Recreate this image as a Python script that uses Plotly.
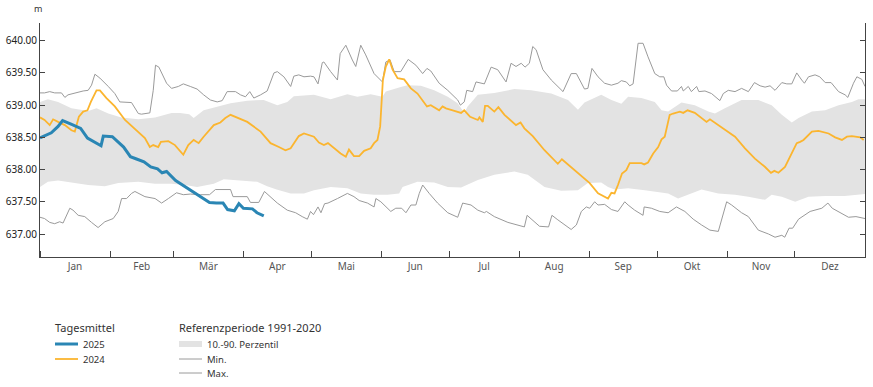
import plotly.graph_objects as go

# ---------------- data (day of year, 0 = 1 Jan; values in m) ----------------
month_starts = [0, 31, 59, 90, 120, 151, 181, 212, 243, 273, 304, 334, 365]
month_labels = ["Jan", "Feb", "Mär", "Apr", "Mai", "Jun", "Jul", "Aug", "Sep", "Okt", "Nov", "Dez"]
y_ticks = [637.0, 637.5, 638.0, 638.5, 639.0, 639.5, 640.0]

days_2025 = [0, 5, 8, 10, 14, 18, 21, 26, 27, 28, 32, 37, 40, 43, 46, 49, 52, 54, 56, 60,
             63, 66, 71, 75, 78, 81, 83, 86, 88, 90, 94, 96, 99]
vals_2025 = [638.49, 638.57, 638.67, 638.76, 638.70, 638.64, 638.49, 638.38, 638.37, 638.52,
             638.51, 638.35, 638.20, 638.16, 638.12, 638.04, 638.01, 637.95, 637.97, 637.83,
             637.76, 637.70, 637.58, 637.49, 637.48, 637.48, 637.38, 637.36, 637.47, 637.40,
             637.39, 637.33, 637.28]

days_2024 = [0, 2, 4.3, 5.8, 8, 11, 13.9, 15.4, 17.2, 19.1, 21, 22.5, 25, 26.5, 29.4, 33.1, 37.6,
             42.7, 46.4, 48.6, 50.1, 52.3, 53.5, 56.8, 59.7, 63.4, 65.6, 68, 70.2, 72.4, 76.9,
             79.8, 82, 84.3, 87.2, 91.7, 97.6, 102, 105.7, 108.6, 110.9, 114.5, 116.8, 121.2,
             123.4, 125.6, 127.4, 130, 133, 135.3, 136.7, 138.9, 141.2, 143.4, 146.3, 147.8,
             149.3, 150.5, 151.1, 151.7, 153, 154.5, 156, 158.2, 161.1, 164.1, 167, 169.3, 171.2,
             172.9, 176.6, 178.1, 179.6, 182.6, 186.3, 187.7, 190.3, 193.7, 194.4, 195.9, 196.9,
             198.1, 201, 202.8, 205.5, 210.6, 212.6, 214.3, 218, 223.2, 229.1, 230.9, 236.5,
             243.2, 246.9, 251.3, 252.8, 254.2, 255.7, 257.5, 259.4, 260.9, 266.1, 267.3, 269,
             271.3, 273.5, 275, 276.4, 278.6, 280.1, 283.1, 284.6, 286.5, 289.7, 294.9, 296.4,
             300.1, 307.5, 311.9, 316.3, 320.8, 323.4, 324.9, 326.7, 329.6, 332.6, 334.8, 336.3,
             337.8, 341.5, 344.4, 348.9, 351.8, 354.8, 357, 359.2, 362.9, 364.4]
vals_2024 = [638.81, 638.77, 638.69, 638.78, 638.74, 638.69, 638.61, 638.59, 638.82, 638.90,
             638.92, 639.05, 639.23, 639.23, 639.11, 638.98, 638.77, 638.61, 638.49, 638.35,
             638.38, 638.35, 638.43, 638.44, 638.38, 638.23, 638.38, 638.46, 638.41, 638.51,
             638.69, 638.73, 638.80, 638.85, 638.81, 638.74, 638.59, 638.41, 638.35, 638.30,
             638.33, 638.52, 638.56, 638.51, 638.42, 638.38, 638.41, 638.33, 638.25, 638.20,
             638.31, 638.21, 638.21, 638.29, 638.33, 638.41, 638.46, 638.67, 638.98, 639.39,
             639.60, 639.71, 639.55, 639.42, 639.40, 639.26, 639.18, 639.08, 638.98, 639.00,
             638.92, 638.98, 638.95, 638.92, 638.88, 638.92, 638.82, 638.77, 638.81, 638.74,
             638.99, 638.99, 638.90, 638.97, 638.85, 638.69, 638.73, 638.64, 638.52, 638.30,
             638.09, 638.16, 637.99, 637.79, 637.63, 637.55, 637.64, 637.63, 637.76, 637.94,
             637.99, 638.10, 638.10, 638.08, 638.11, 638.25, 638.35, 638.47, 638.51, 638.85,
             638.87, 638.90, 638.88, 638.92, 638.88, 638.74, 638.78, 638.69, 638.51, 638.33,
             638.17, 638.04, 637.95, 637.98, 637.95, 638.04, 638.25, 638.41, 638.43, 638.46,
             638.59, 638.60, 638.56, 638.50, 638.46, 638.51, 638.52, 638.50, 638.46]

days_max = [0, 2, 4.3, 6.5, 9.5, 11, 12.4, 15.4, 19.1, 21.3, 22.8, 24.3, 26.5, 30.2, 33.1, 35.3,
            37.6, 40.5, 43.5, 44.9, 48.6, 50.1, 51.1, 52.6, 56, 58.2, 61.2, 63.4, 66.5, 69.5, 72.4,
            75.4, 78.4, 80.6, 82.8, 86.5, 88.7, 90.9, 92.8, 94.6, 97.6, 100.5, 103.5, 105, 107.9,
            109.7, 110.9, 112.3, 114.5, 116.8, 119.7, 121.2, 123, 124.9, 125.6, 128.6, 131.6,
            132.8, 135.3, 138.2, 139.7, 141.9, 144.1, 147.8, 151.5, 153, 154.9, 156.7, 159.6,
            162.9, 166.3, 169.3, 171.2, 172.9, 176.6, 180.4, 184.8, 186, 187.7, 188.8, 191.4,
            192.9, 196.6, 199.6, 202.5, 206.2, 208.4, 210.6, 212.9, 214.6, 216.5, 218, 219.5,
            222.5, 226.2, 231.4, 232.8, 235, 237.3, 240.9, 242.4, 244.2, 246.9, 249.8, 252.8,
            255.7, 257.2, 259.4, 260.9, 262.4, 264.6, 266.8, 269, 272, 274.2, 276, 277.2, 279.4,
            282, 283.8, 284.6, 286.8, 288.2, 290.5, 291.5, 294.2, 297.1, 300.8, 302.3, 304.5,
            307.5, 310.4, 313.4, 316.1, 318.6, 320.8, 323, 325.2, 328.2, 330.4, 332.6, 334.8,
            337, 338.2, 340, 342.9, 345, 347.4, 350, 353.3, 356.2, 357.4, 359.9, 361.4, 363.6, 365]
vals_max = [639.19, 639.19, 639.21, 639.19, 639.19, 639.12, 639.16, 639.19, 639.22, 639.23,
            639.31, 639.48, 639.42, 639.29, 639.18, 639.05, 639.05, 639.04, 638.87, 638.86,
            638.88, 639.23, 639.62, 639.59, 639.34, 639.26, 639.29, 639.33, 639.29, 639.25,
            639.16, 639.08, 639.05, 639.07, 639.21, 639.21, 639.16, 639.13, 639.21, 639.11,
            639.16, 639.22, 639.50, 639.52, 639.44, 639.34, 639.29, 639.45, 639.47, 639.44,
            639.45, 639.44, 639.33, 639.66, 639.67, 639.52, 639.39, 639.80, 639.93, 639.70,
            639.60, 639.93, 639.78, 639.49, 639.36, 639.67, 639.70, 639.52, 639.52, 639.71,
            639.62, 639.49, 639.57, 639.53, 639.34, 639.23, 639.08, 639.00, 639.05, 639.23,
            639.21, 639.36, 639.33, 639.59, 639.55, 639.36, 639.65, 639.60, 639.65, 639.59,
            639.65, 639.91, 639.86, 639.55, 639.39, 639.21, 639.31, 639.49, 639.49, 639.25,
            639.26, 639.57, 639.44, 639.34, 639.31, 639.34, 639.38, 639.36, 639.30, 639.33,
            639.96, 639.96, 639.75, 639.49, 639.44, 639.44, 639.31, 639.22, 639.22, 639.29,
            639.22, 639.29, 639.21, 639.29, 639.21, 639.22, 639.18, 639.07, 639.18, 639.23,
            639.21, 639.26, 639.21, 639.35, 639.30, 639.28, 639.30, 639.23, 639.35, 639.33,
            639.33, 639.50, 639.39, 639.34, 639.44, 639.47, 639.44, 639.35, 639.35, 639.21,
            639.16, 639.12, 639.34, 639.44, 639.40, 639.29]

days_min = [0, 2, 4.3, 6.5, 8.7, 10.2, 13.2, 14.6, 16.9, 19.8, 22.8, 25.7, 28.7, 32.4, 34.6, 36.1,
            38.3, 40.5, 42, 46.4, 50.9, 53.8, 56.8, 60.4, 63.4, 66.5, 71, 75, 77.6, 84.3, 85.4,
            91.7, 93.1, 96.8, 99.3, 102, 105, 109.4, 113.1, 116, 118.3, 119.7, 121, 123, 124.3,
            125.9, 127.4, 131.6, 136, 138.9, 141.2, 144.9, 147.8, 148.6, 150.8, 155.2, 157.4, 160,
            161.9, 164.1, 166.3, 167.8, 169.3, 172.2, 175.9, 180.4, 183.3, 184.8, 187, 188.5,
            190.7, 193.7, 196.6, 197.5, 201, 207, 211.4, 214.3, 215.5, 218, 221, 225, 226.5,
            229.1, 232.1, 235, 237.3, 239.5, 241.7, 243.2, 245.4, 246.9, 249.8, 252.8, 255.7,
            258.7, 260.2, 263.1, 266.8, 267.3, 270.5, 274.2, 277.9, 281.6, 285.3, 289, 292.7,
            296.4, 300.1, 301.6, 303.8, 306, 310.4, 313.4, 317.8, 322.3, 325.2, 328.2, 329.5,
            331.4, 333, 335.6, 340.7, 345.9, 348.6, 350.5, 353.3, 357.7, 361, 365]
vals_min = [637.26, 637.24, 637.18, 637.16, 637.19, 637.17, 637.40, 637.37, 637.29, 637.27,
            637.18, 637.10, 637.19, 637.24, 637.35, 637.55, 637.55, 637.63, 637.66, 637.58,
            637.55, 637.48, 637.55, 637.64, 637.61, 637.62, 637.61, 637.61, 637.69, 637.69,
            637.58, 637.58, 637.49, 637.49, 637.66, 637.58, 637.48, 637.37, 637.33, 637.27,
            637.23, 637.35, 637.30, 637.42, 637.33, 637.47, 637.48, 637.55, 637.63, 637.58,
            637.52, 637.48, 637.42, 637.55, 637.50, 637.35, 637.40, 637.40, 637.33, 637.45,
            637.45, 637.63, 637.76, 637.63, 637.48, 637.33, 637.29, 637.26, 637.48, 637.47,
            637.45, 637.37, 637.33, 637.35, 637.27, 637.18, 637.14, 637.11, 637.29, 637.21,
            637.12, 637.11, 637.29, 637.22, 637.14, 637.07, 637.14, 637.35, 637.42, 637.40,
            637.50, 637.45, 637.46, 637.38, 637.35, 637.50, 637.45, 637.37, 637.29, 637.42,
            637.40, 637.35, 637.33, 637.42, 637.35, 637.23, 637.14, 637.06, 637.04, 637.22,
            637.50, 637.45, 637.33, 637.27, 637.06, 637.00, 636.95, 636.98, 636.95, 637.09,
            637.09, 637.23, 637.35, 637.40, 637.48, 637.40, 637.35, 637.26, 637.27, 637.24]

days_p90 = [0, 3.5, 8, 13.9, 21.3, 25, 30.2, 36, 43.5, 50.9, 58.2, 62, 66, 68, 72.4, 78.4, 84.3,
            91.7, 99, 105, 109.4, 112.3, 121.2, 128.6, 136, 140.4, 146.3, 151.5, 153, 159.6,
            162.6, 168.5, 174.4, 180.4, 184.8, 187.7, 189.2, 193.7, 201, 209.9, 217.3, 226.2,
            233.6, 238, 240.9, 248.3, 252.8, 257.2, 260.2, 266.1, 272, 275, 277.9, 283.8, 289.7,
            295.7, 298.6, 303, 310.4, 317.8, 323.7, 328.2, 332.6, 335.6, 341.5, 347.4, 353.3,
            359.2, 362.1, 365]
vals_p90 = [639.05, 639.09, 639.05, 638.95, 638.91, 638.95, 638.87, 638.81, 638.78, 638.81,
            638.88, 638.88, 638.86, 638.80, 638.92, 638.97, 639.03, 639.07, 639.08, 639.00,
            639.05, 639.14, 639.16, 639.09, 639.17, 639.13, 639.17, 639.13, 639.21, 639.28,
            639.31, 639.30, 639.23, 639.13, 639.03, 638.88, 638.98, 639.16, 639.19, 639.25,
            639.23, 639.18, 639.08, 638.93, 639.04, 639.16, 639.08, 639.02, 639.13, 639.11,
            639.05, 638.92, 638.90, 639.04, 639.00, 638.90, 638.87, 638.95, 639.08, 639.08,
            639.00, 638.85, 638.73, 638.80, 638.90, 638.92, 639.00, 639.05, 639.09, 639.09]

days_p10 = [0, 3.5, 8, 13.9, 21.3, 28.7, 34.6, 43.5, 50.9, 58, 64.2, 69.5, 76.9, 81.3, 88.7,
            96.1, 100.5, 104.7, 110.9, 116.8, 121.2, 128.6, 136, 141.9, 147.8, 153.7, 158.9,
            160.4, 167, 174.4, 180.4, 186.3, 193.7, 201, 209.9, 215.8, 223.2, 230.6, 238, 242.4,
            248.3, 251.3, 254.2, 260.2, 267.6, 277.9, 282.3, 288.2, 292.7, 300.1, 307.5, 313.4,
            320.8, 323.7, 328.2, 334.1, 340, 347.4, 356, 365]
vals_p10 = [637.73, 637.81, 637.83, 637.80, 637.76, 637.74, 637.79, 637.81, 637.78, 637.78,
            637.76, 637.73, 637.78, 637.85, 637.83, 637.81, 637.74, 637.69, 637.63, 637.63,
            637.68, 637.73, 637.71, 637.63, 637.61, 637.61, 637.63, 637.73, 637.81, 637.80,
            637.73, 637.72, 637.84, 637.92, 637.97, 637.92, 637.73, 637.67, 637.68, 637.79,
            637.80, 637.73, 637.69, 637.71, 637.68, 637.63, 637.55, 637.63, 637.69, 637.63,
            637.61, 637.58, 637.53, 637.61, 637.58, 637.50, 637.58, 637.59, 637.59, 637.62]

# ---------------- styling ----------------
BLUE = "#2A86B4"
ORANGE = "#FBB52F"
BAND = "#E3E3E3"
REFLINE = "#9A9A9A"
AXIS = "#444444"
TXT = "#333333"
FONT = "Noto Sans"

fig = go.Figure()

fig.add_trace(go.Scatter(x=days_p10, y=vals_p10, mode="lines", line=dict(width=0, color=BAND),
                         hoverinfo="skip", showlegend=False))
fig.add_trace(go.Scatter(x=days_p90, y=vals_p90, mode="lines", line=dict(width=0, color=BAND),
                         fill="tonexty", fillcolor=BAND, hoverinfo="skip", showlegend=False))
fig.add_trace(go.Scatter(x=days_min, y=vals_min, mode="lines", line=dict(width=1, color=REFLINE),
                         showlegend=False))
fig.add_trace(go.Scatter(x=days_max, y=vals_max, mode="lines", line=dict(width=1, color=REFLINE),
                         showlegend=False))
fig.add_trace(go.Scatter(x=days_2024, y=vals_2024, mode="lines", line=dict(width=1.8, color=ORANGE),
                         showlegend=False))
fig.add_trace(go.Scatter(x=days_2025, y=vals_2025, mode="lines", line=dict(width=3, color=BLUE),
                         showlegend=False))

month_mids = [(month_starts[i] + month_starts[i + 1]) / 2 for i in range(12)]

fig.update_xaxes(
    range=[0, 365], showgrid=False, zeroline=False, automargin=False,
    showline=True, linecolor=AXIS, linewidth=1,
    tickmode="array", tickvals=month_mids, ticktext=month_labels, ticks="",
    tickfont=dict(family=FONT, size=10, color="#555555"),
    minor=dict(tickmode="array", tickvals=month_starts, ticks="inside", ticklen=6,
               tickcolor=AXIS, tickwidth=1, showgrid=False),
)
fig.update_yaxes(
    range=[636.643, 640.275], showgrid=False, zeroline=False, automargin=False,
    showline=True, linecolor=AXIS, linewidth=1, mirror="ticks",
    tickmode="array", tickvals=y_ticks, ticktext=[f"{v:.2f}" for v in y_ticks],
    ticks="inside", ticklen=5, tickcolor=AXIS,
    tickfont=dict(family=FONT, size=10, color="#222222"),
)

# ---------------- custom legend (paper coords; page pixels -> plot fractions) ----------------
W_PLOT, H_PLOT, L, B = 825.0, 234.0, 40.0, 257.0

def px(x):
    return (x - L) / W_PLOT

def py(y):
    return (B - y) / H_PLOT

shapes = []
annotations = []

def add_text(x, y, text, size):
    annotations.append(dict(x=px(x), y=py(y), xref="paper", yref="paper", text=text,
                            showarrow=False, xanchor="left", yanchor="middle",
                            font=dict(family=FONT, size=size, color=TXT)))

def add_line(x0, x1, y, color, width):
    shapes.append(dict(type="line", xref="paper", yref="paper", x0=px(x0), x1=px(x1),
                       y0=py(y), y1=py(y), line=dict(color=color, width=width)))

add_text(53, 327, "Tagesmittel", 11)
add_line(55, 78, 344, BLUE, 3)
add_text(81, 344, "2025", 9.5)
add_line(55, 78, 359, ORANGE, 1.8)
add_text(81, 359, "2024", 9.5)

add_text(177, 327, "Referenzperiode 1991-2020", 11)
shapes.append(dict(type="rect", xref="paper", yref="paper", x0=px(179), x1=px(202),
                   y0=py(347), y1=py(341), fillcolor=BAND, line=dict(width=0)))
add_text(205, 344, "10.-90. Perzentil", 9.5)
add_line(179, 202, 359, REFLINE, 1)
add_text(205, 359, "Min.", 9.5)
add_line(179, 202, 373, REFLINE, 1)
add_text(205, 373, "Max.", 9.5)

annotations.append(dict(x=px(38), y=py(8), xref="paper", yref="paper", text="m",
                        showarrow=False, xanchor="center", yanchor="middle",
                        font=dict(family=FONT, size=9, color=TXT)))

fig.update_layout(
    width=873, height=387,
    margin=dict(l=40, r=8, t=23, b=130),
    paper_bgcolor="white", plot_bgcolor="white",
    shapes=shapes, annotations=annotations,
    showlegend=False,
    font=dict(family=FONT),
)

# remove the browser's default 8px page margin so the figure sits at the window origin
fig.write_html("out.html", config={"displayModeBar": False},
               post_script="document.body.style.margin='0';document.body.style.overflow='hidden';")
